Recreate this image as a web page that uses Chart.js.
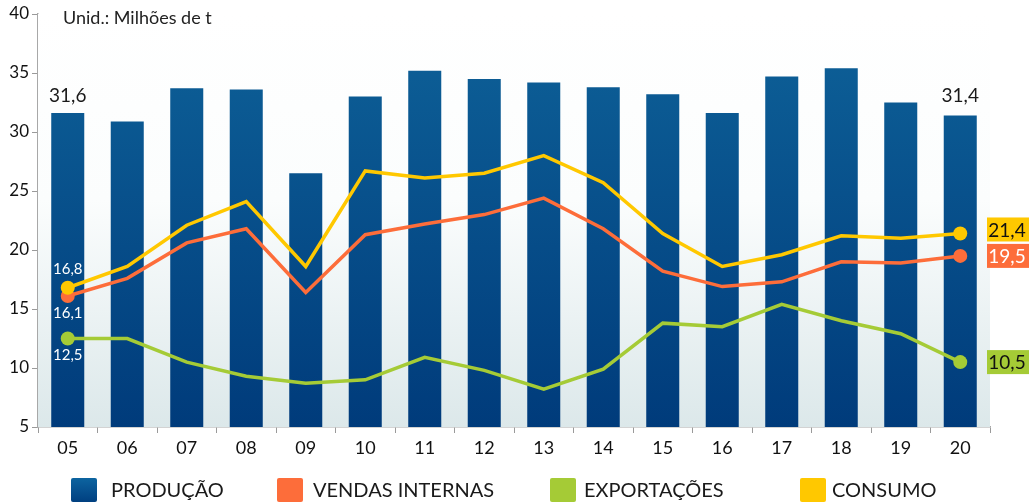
<!DOCTYPE html>
<html>
<head>
<meta charset="utf-8">
<script src="https://cdn.jsdelivr.net/npm/chart.js@4"></script>
<style>
  body { margin: 0; background: #fff; }
  canvas { display: block; }
</style>
</head>
<body>
<canvas id="myChart" width="1029" height="504"></canvas>
<script>
var anos = ['05','06','07','08','09','10','11','12','13','14','15','16','17','18','19','20'];
var producao = [31.6, 30.9, 33.7, 33.6, 26.5, 33.0, 35.2, 34.5, 34.2, 33.8, 33.2, 31.6, 34.7, 35.4, 32.5, 31.4];
var vendas = [16.1, 17.6, 20.6, 21.8, 16.4, 21.3, 22.2, 23.0, 24.4, 21.8, 18.2, 16.9, 17.3, 19.0, 18.9, 19.5];
var exportacoes = [12.5, 12.5, 10.5, 9.3, 8.7, 9.0, 10.9, 9.8, 8.2, 9.9, 13.8, 13.5, 15.4, 14.0, 12.9, 10.5];
var consumo = [16.8, 18.6, 22.1, 24.1, 18.6, 26.7, 26.1, 26.5, 28.0, 25.7, 21.4, 18.6, 19.6, 21.2, 21.0, 21.4];
var yTicks = [5, 10, 15, 20, 25, 30, 35, 40];

var AZUL = '#0a5a94', LARANJA = '#fd6d3a', VERDE = '#a5cb36', AMARELO = '#ffc800';
var FONTE = 'Lato, "DejaVu Sans", sans-serif';

function fim(ctx) {
  var n = ctx.dataset.data.length;
  return (ctx.dataIndex === 0 || ctx.dataIndex === n - 1) ? 7 : 0;
}

function numero(v) { return v.toFixed(1).replace('.', ','); }

var fundo = {
  id: 'fundo',
  beforeDatasetsDraw: function(chart) {
    var c = chart.ctx, a = chart.chartArea;
    var g = c.createLinearGradient(0, a.top, 0, a.bottom);
    g.addColorStop(0, '#ffffff');
    g.addColorStop(0.45, '#fbfdfd');
    g.addColorStop(1, '#dce8ea');
    c.save();
    c.fillStyle = g;
    c.fillRect(a.left, a.top, a.right - a.left, a.bottom - a.top);
    c.restore();
  }
};

var rotulos = {
  id: 'rotulos',
  afterDraw: function(chart) {
    var c = chart.ctx, x = chart.scales.x, y = chart.scales.y;
    var last = anos.length - 1;
    c.save();
    c.textAlign = 'center';
    c.textBaseline = 'middle';

    // valores da produção
    c.fillStyle = '#1a1a1a';
    c.font = '19px ' + FONTE;
    c.fillText(numero(producao[0]), x.getPixelForValue(0), y.getPixelForValue(producao[0]) - 17);
    c.fillText(numero(producao[last]), x.getPixelForValue(last), y.getPixelForValue(producao[0]) - 17);

    // valores iniciais
    c.fillStyle = '#ffffff';
    c.font = '15px ' + FONTE;
    var x0 = x.getPixelForValue(0);
    c.fillText(numero(consumo[0]), x0, y.getPixelForValue(consumo[0]) - 19);
    c.fillText(numero(vendas[0]), x0, y.getPixelForValue(vendas[0]) + 17);
    c.fillText(numero(exportacoes[0]), x0, y.getPixelForValue(exportacoes[0]) + 17);

    // caixas finais
    var caixas = [
      [consumo[last], AMARELO, '#111', -4],
      [vendas[last], LARANJA, '#fff', 0],
      [exportacoes[last], VERDE, '#111', 0]
    ];
    c.font = '19px ' + FONTE;
    caixas.forEach(function(b) {
      var cy = y.getPixelForValue(b[0]) + b[3];
      c.fillStyle = b[1];
      c.fillRect(987, cy - 12, 42, 24);
      c.fillStyle = b[2];
      c.fillText(numero(b[0]), 1007, cy + 1);
    });

    // unidade
    c.textAlign = 'left';
    c.fillStyle = '#222';
    c.font = '18px ' + FONTE;
    c.fillText('Unid.: Milhões de t', 63, 18);

    // legenda
    var itens = [
      ['PRODUÇÃO', AZUL, 71, 111],
      ['VENDAS INTERNAS', LARANJA, 277, 313],
      ['EXPORTAÇÕES', VERDE, 550, 584],
      ['CONSUMO', AMARELO, 800, 832]
    ];
    c.font = '20px "Liberation Sans Narrow", ' + FONTE;
    itens.forEach(function(it) {
      if (it[1] === AZUL) {
        var g = c.createLinearGradient(0, 478, 0, 502);
        g.addColorStop(0, '#0d64a0');
        g.addColorStop(1, '#003f80');
        c.fillStyle = g;
      } else {
        c.fillStyle = it[1];
      }
      c.beginPath();
      c.roundRect(it[2], 478, 26, 24, 2);
      c.fill();
      c.fillStyle = '#1a1a1a';
      c.fillText(it[0], it[3], 491);
    });
    c.restore();
  }
};

var ctx = document.getElementById('myChart');

new Chart(ctx, {
  data: {
    labels: anos,
    datasets: [
      { type: 'line', label: 'CONSUMO', data: consumo, borderColor: AMARELO, backgroundColor: AMARELO,
        borderWidth: 3.5, pointRadius: fim, pointBorderWidth: 0, tension: 0 },
      { type: 'line', label: 'VENDAS INTERNAS', data: vendas, borderColor: LARANJA, backgroundColor: LARANJA,
        borderWidth: 3.5, pointRadius: fim, pointBorderWidth: 0, tension: 0 },
      { type: 'line', label: 'EXPORTAÇÕES', data: exportacoes, borderColor: VERDE, backgroundColor: VERDE,
        borderWidth: 3.5, pointRadius: fim, pointBorderWidth: 0, tension: 0 },
      { type: 'bar', label: 'PRODUÇÃO', data: producao,
        backgroundColor: function(context) {
          var a = context.chart.chartArea;
          if (!a) return AZUL;
          var g = context.chart.ctx.createLinearGradient(0, a.top, 0, a.bottom);
          g.addColorStop(0, '#0e6299');
          g.addColorStop(1, '#003b7b');
          return g;
        },
        categoryPercentage: 1, barPercentage: 0.555 }
    ]
  },
  options: {
    responsive: false,
    animation: false,
    layout: { padding: { top: 14, right: 39, left: 0, bottom: 0 } },
    plugins: {
      legend: { display: false },
      tooltip: { enabled: false }
    },
    scales: {
      x: {
        offset: true,
        grid: { offset: true, drawOnChartArea: false, tickLength: 6, color: '#9a9a9a' },
        border: { color: '#a8a8a8', width: 1.5 },
        ticks: { color: '#111', font: { family: FONTE, size: 18 }, padding: 4 },
        afterFit: function(s) { s.height = 77; }
      },
      y: {
        min: 5, max: 40,
        afterBuildTicks: function(s) { s.ticks = yTicks.map(function(v) { return { value: v }; }); },
        grid: { drawOnChartArea: false, tickLength: 6, color: '#9a9a9a' },
        border: { color: '#a8a8a8', width: 1.5 },
        ticks: { color: '#111', font: { family: FONTE, size: 17 }, padding: 3 },
        afterFit: function(s) { s.width = 38; }
      }
    }
  },
  plugins: [fundo, rotulos]
});
</script>
</body>
</html>
